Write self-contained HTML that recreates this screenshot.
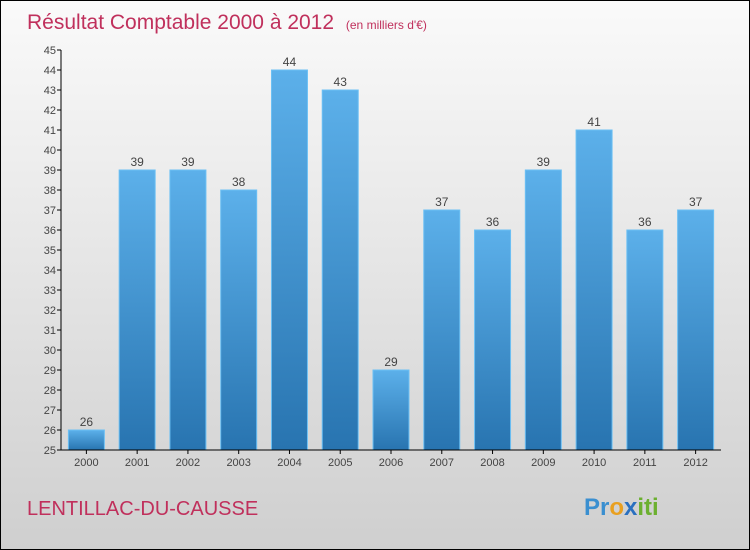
<!DOCTYPE html>
<html><head><meta charset="utf-8"><style>
body{margin:0}
#wrap{width:748px;height:548px;border:1px solid #000;background:linear-gradient(#fafafa,#cfcfcf);position:relative;overflow:hidden;font-family:"Liberation Sans",sans-serif}
</style></head><body>
<div id="wrap">
<svg width="748" height="548" id="svg">
<defs><linearGradient id="g" x1="0" y1="0" x2="0" y2="1"><stop offset="0" stop-color="#5cb0ea"/><stop offset="1" stop-color="#2874b0"/></linearGradient></defs>
<text x="26" y="28" font-size="21" fill="#c0305c">Résultat Comptable 2000 à 2012 <tspan font-size="12" dx="6">(en milliers d'€)</tspan></text>
<text x="26" y="514" font-size="20" fill="#c0305c">LENTILLAC-DU-CAUSSE</text>
<text x="583" y="514" font-size="24" font-weight="bold"><tspan fill="#3a8fd0">Pr</tspan><tspan fill="#e9a020">o</tspan><tspan fill="#2a70c0">x</tspan><tspan fill="#6cb030">iti</tspan></text>
<g id="plot"></g>
</svg></div>
<script>
const categories=["2000","2001","2002","2003","2004","2005","2006","2007","2008","2009","2010","2011","2012"];
const values=[26,39,39,38,44,43,29,37,36,39,41,36,37];
const yTicks=[25,26,27,28,29,30,31,32,33,34,35,36,37,38,39,40,41,42,43,44,45];
const ns="http://www.w3.org/2000/svg";
const plot=document.getElementById('plot');
const x0=60,step=50.77,bw=36,yMin=25,yMax=45,yTop=49,yBot=449;
const y=v=>yBot-(v-yMin)/(yMax-yMin)*(yBot-yTop);
const xc=i=>x0+step*i+step/2;
function mk(t,a){const e=document.createElementNS(ns,t);for(const k in a)e.setAttribute(k,a[k]);plot.appendChild(e);return e;}
yTicks.forEach(v=>{
 const l=mk('line',{x1:x0-4,x2:x0,y1:y(v),y2:y(v),stroke:'#000'});
 
 
 const t=mk('text',{x:x0-5,y:y(v)+4,'text-anchor':'end','font-size':11,fill:'#444'});
 t.textContent=v;
 
 
});
categories.forEach((c,i)=>{
 const v=values[i];
 const r=mk('rect',{x:xc(i)-bw/2,y:y(v),width:bw,height:yBot-y(v),fill:'url(#g)',stroke:'#6cc0f4','stroke-width':1});
 
 
 const t=mk('text',{x:xc(i),y:y(v)-4,'text-anchor':'middle','font-size':12,fill:'#444'});
 t.textContent=v;
 
 
 const tl=mk('line',{x1:xc(i),x2:xc(i),y1:yBot,y2:yBot+4,stroke:'#000'});
 
 
 const ct=mk('text',{x:xc(i),y:yBot+16,'text-anchor':'middle','font-size':11,fill:'#444'});
 ct.textContent=c;
 
 
});
const ya=mk('line',{x1:x0,x2:x0,y1:yTop,y2:yBot,stroke:'#000'});


const xa=mk('line',{x1:x0,x2:x0+step*13,y1:yBot,y2:yBot,stroke:'#000'});


</script>
</body></html>
